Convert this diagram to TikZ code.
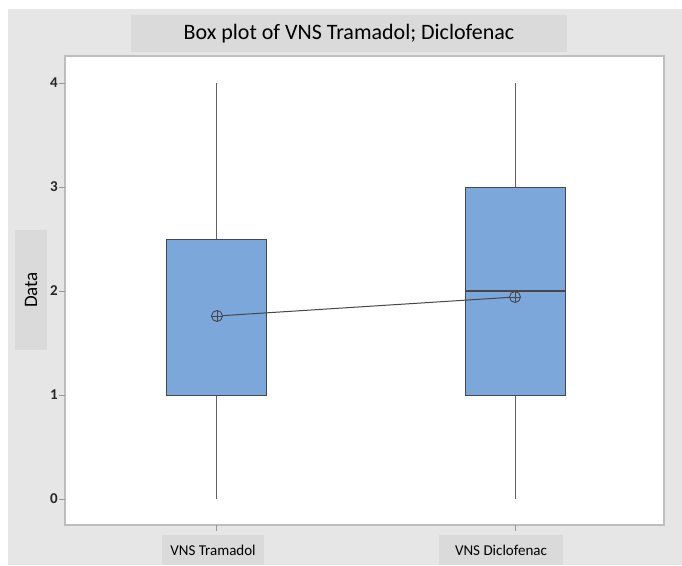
\documentclass[tikz,border=0pt]{standalone}
\usepackage{fontspec}
\setmainfont{Carlito}
\definecolor{bgcol}{RGB}{230,230,230}
\definecolor{lblcol}{RGB}{218,218,218}
\definecolor{boxcol}{RGB}{123,167,219}
\definecolor{edgecol}{RGB}{70,70,75}
\definecolor{framecol}{RGB}{190,190,190}
\definecolor{tickcol}{RGB}{150,150,150}
\begin{document}
\begin{tikzpicture}[x=1pt,y=-1pt,
  labelbox/.style={fill=lblcol,inner sep=0pt,text=black},
  boxstyle/.style={fill=boxcol,draw=edgecol,line width=1pt},
  whisk/.style={draw=edgecol!85,line width=1pt},
  meanmark/.style={circle,draw=edgecol,line width=0.9pt,minimum size=11pt,inner sep=0pt,
     path picture={\draw[edgecol,line width=0.8pt] (path picture bounding box.north) -- (path picture bounding box.south)
       (path picture bounding box.west) -- (path picture bounding box.east);}},
  ticklab/.style={anchor=east,font=\fontsize{15}{15}\selectfont\bfseries,text=black!85,inner sep=0pt},
  tk/.style={draw=tickcol,line width=0.7pt}]
\useasboundingbox (0,0) rectangle (682,565);
\fill[white] (0,0) rectangle (682,565);
\fill[bgcol] (8,9) rectangle (682,565);
% title
\node[labelbox,minimum width=436pt,minimum height=37pt] (title) at (349,33.5)
  {\fontsize{22}{22}\selectfont Box plot of VNS Tramadol; Diclofenac};
% plot area
\fill[white] (65,56) rectangle (664,525);
\draw[framecol,line width=1.6pt] (65,56) rectangle (664,525);
% y label
\node[labelbox,minimum width=120pt,minimum height=32pt,rotate=90] (ylab) at (31,290)
  {\fontsize{19}{19}\selectfont Data};
% y ticks
\foreach \v/\yy in {0/499,1/395,2/291,3/187,4/83}{
  \draw[tk] (59,\yy) -- (65,\yy);
  \node[ticklab] (yt\v) at (58,\yy) {\v};
}
% x ticks and labels
\draw[tk] (216,525) -- (216,531);
\draw[tk] (515,525) -- (515,531);
\node[labelbox,minimum width=102pt,minimum height=30pt] (xl1) at (213,550)
  {\fontsize{15}{15}\selectfont VNS Tramadol};
\node[labelbox,minimum width=124pt,minimum height=30pt] (xl2) at (501,550)
  {\fontsize{15}{15}\selectfont VNS Diclofenac};
% box 1: Tramadol
\draw[whisk] (216,83) -- (216,239);
\draw[whisk] (216,395) -- (216,499);
\draw[boxstyle] (166,239) rectangle (266,395);
% box 2: Diclofenac
\draw[whisk] (515,83) -- (515,187);
\draw[whisk] (515,395) -- (515,499);
\draw[boxstyle] (465,187) rectangle (565,395);
\draw[edgecol,line width=1.2pt] (465,291) -- (565,291);
% means
\node[meanmark] (m1) at (217,316) {};
\node[meanmark] (m2) at (515,297) {};
\draw[edgecol,line width=1pt] (m1) -- (m2);
\end{tikzpicture}
\end{document}
